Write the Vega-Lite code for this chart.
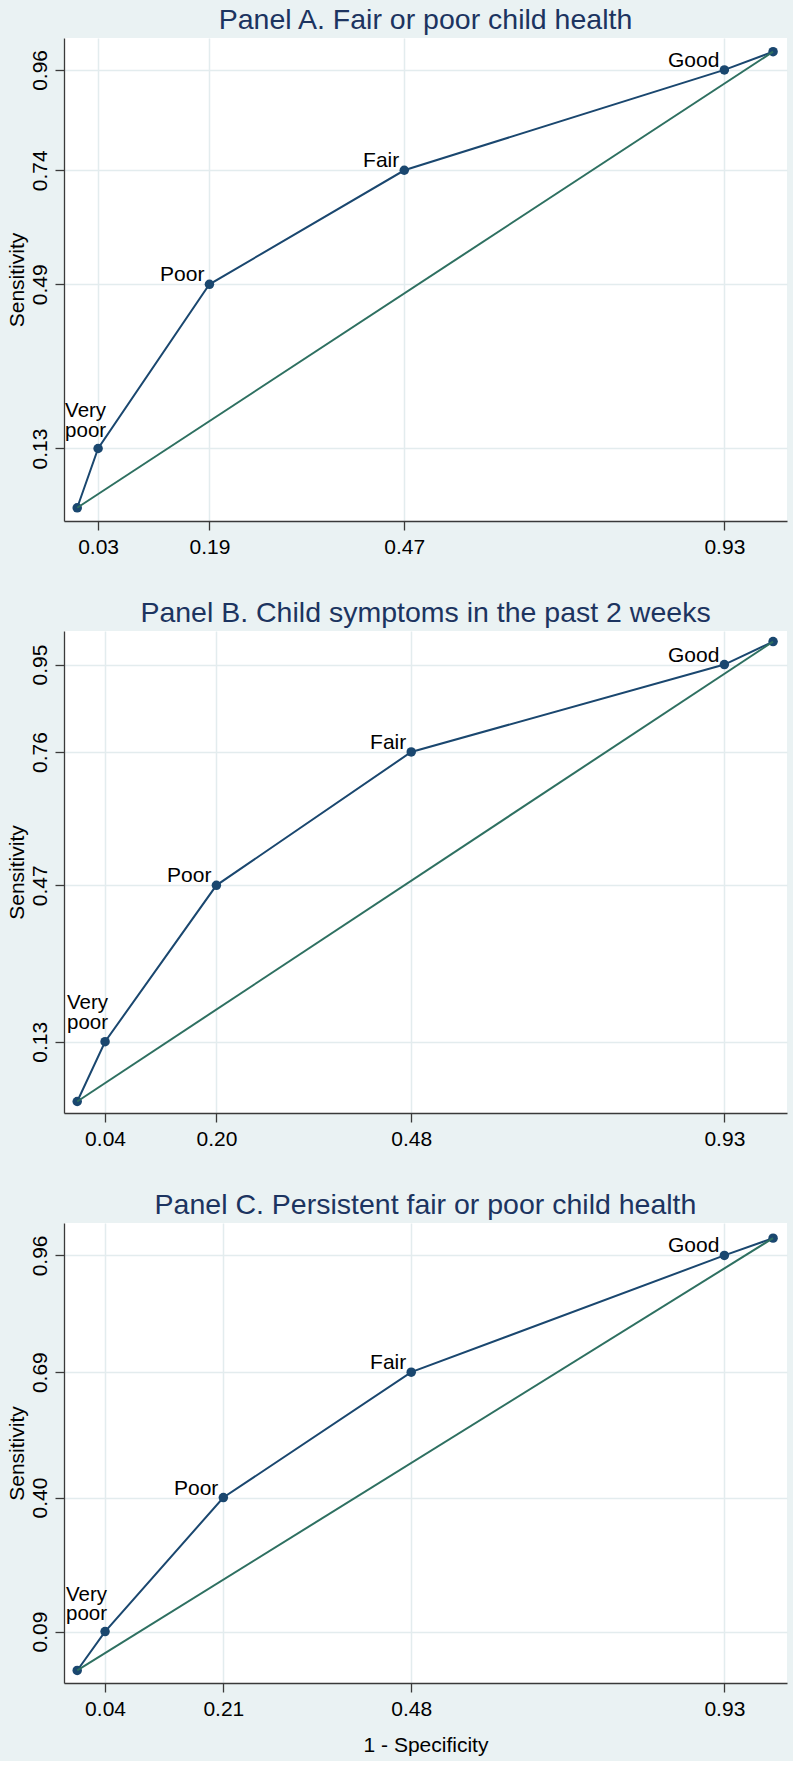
{
  "$schema": "https://vega.github.io/schema/vega-lite/v6.json",
  "background": "#eaf2f3",
  "padding": {"left": 5, "top": 5, "right": 7, "bottom": 6},
  "spacing": 41,
  "config": {
    "font": "Liberation Sans",
    "view": {"fill": "white", "stroke": null},
    "axis": {
      "domainColor": "#3a3a3a", "domainWidth": 1.3,
      "tickColor": "#3a3a3a", "tickWidth": 1.3, "tickSize": 9,
      "gridColor": "#e3ecee", "gridWidth": 1.5,
      "labelFont": "Liberation Sans", "labelFontSize": 21, "labelColor": "#000000",
      "titleFont": "Liberation Sans", "titleFontSize": 21, "titleFontWeight": "normal", "titleColor": "#000000"
    },
    "axisX": {"labelPadding": 6, "labelAngle": 0, "titlePadding": 15},
    "axisY": {"labelAngle": -90, "labelPadding": 5, "titlePadding": 2},
    "title": {"fontSize": 28.5, "fontWeight": "normal", "color": "#1c3460", "frame": "group", "anchor": "middle", "baseline": "alphabetic", "offset": 4, "font": "Liberation Sans"}
  },
  "datasets": {
    "roc": [
      {"panel": "A", "fpr": 0, "tpr": 0, "label": ""},
      {"panel": "A", "fpr": 0.03, "tpr": 0.13, "label": "Very poor"},
      {"panel": "A", "fpr": 0.19, "tpr": 0.49, "label": "Poor"},
      {"panel": "A", "fpr": 0.47, "tpr": 0.74, "label": "Fair"},
      {"panel": "A", "fpr": 0.93, "tpr": 0.96, "label": "Good"},
      {"panel": "A", "fpr": 1, "tpr": 1, "label": ""},
      {"panel": "B", "fpr": 0, "tpr": 0, "label": ""},
      {"panel": "B", "fpr": 0.04, "tpr": 0.13, "label": "Very poor"},
      {"panel": "B", "fpr": 0.20, "tpr": 0.47, "label": "Poor"},
      {"panel": "B", "fpr": 0.48, "tpr": 0.76, "label": "Fair"},
      {"panel": "B", "fpr": 0.93, "tpr": 0.95, "label": "Good"},
      {"panel": "B", "fpr": 1, "tpr": 1, "label": ""},
      {"panel": "C", "fpr": 0, "tpr": 0, "label": ""},
      {"panel": "C", "fpr": 0.04, "tpr": 0.09, "label": "Very poor"},
      {"panel": "C", "fpr": 0.21, "tpr": 0.40, "label": "Poor"},
      {"panel": "C", "fpr": 0.48, "tpr": 0.69, "label": "Fair"},
      {"panel": "C", "fpr": 0.93, "tpr": 0.96, "label": "Good"},
      {"panel": "C", "fpr": 1, "tpr": 1, "label": ""}
    ],
    "diag": [
      {"fpr": 0, "tpr": 0},
      {"fpr": 1, "tpr": 1}
    ]
  },
  "vconcat": [
    {
      "width": 723, "height": 483,
      "title": "Panel A. Fair or poor child health",
      "encoding": {
        "x": {"field": "fpr", "type": "quantitative", "scale": {"domain": [-0.019, 1.02], "nice": false, "zero": false}, "axis": {"values": [0.03, 0.19, 0.47, 0.93], "format": ".2f", "title": null}},
        "y": {"field": "tpr", "type": "quantitative", "scale": {"domain": [-0.029, 1.03], "nice": false, "zero": false}, "axis": {"values": [0.13, 0.49, 0.74, 0.96], "format": ".2f", "title": "Sensitivity"}}
      },
      "layer": [
        {"data": {"name": "roc"}, "transform": [{"filter": "datum.panel === 'A'"}],
         "mark": {"type": "line", "color": "#1a476f", "strokeWidth": 2, "point": {"filled": true, "size": 90, "color": "#1a476f", "opacity": 1}}},
        {"data": {"name": "diag"}, "mark": {"type": "line", "color": "#2e7061", "strokeWidth": 2}},
        {"data": {"name": "roc"}, "transform": [{"filter": "datum.panel === 'A' && datum.label !== '' && datum.label !== 'Very poor'"}],
         "mark": {"type": "text", "align": "right", "baseline": "alphabetic", "dx": -5, "dy": -3, "fontSize": 21, "color": "#000000"},
         "encoding": {"text": {"field": "label"}}},
        {"data": {"name": "roc"}, "transform": [{"filter": "datum.panel === 'A' && datum.label === 'Very poor'"}],
         "mark": {"type": "text", "align": "left", "baseline": "alphabetic", "lineBreak": " ", "lineHeight": 19.5, "dx": -33, "dy": -31, "fontSize": 20.5, "color": "#000000"},
         "encoding": {"text": {"field": "label"}}}
      ]
    },
    {
      "width": 723, "height": 482,
      "title": "Panel B. Child symptoms in the past 2 weeks",
      "encoding": {
        "x": {"field": "fpr", "type": "quantitative", "scale": {"domain": [-0.019, 1.02], "nice": false, "zero": false}, "axis": {"values": [0.04, 0.20, 0.48, 0.93], "format": ".2f", "title": null}},
        "y": {"field": "tpr", "type": "quantitative", "scale": {"domain": [-0.025, 1.023], "nice": false, "zero": false}, "axis": {"values": [0.13, 0.47, 0.76, 0.95], "format": ".2f", "title": "Sensitivity"}}
      },
      "layer": [
        {"data": {"name": "roc"}, "transform": [{"filter": "datum.panel === 'B'"}],
         "mark": {"type": "line", "color": "#1a476f", "strokeWidth": 2, "point": {"filled": true, "size": 90, "color": "#1a476f", "opacity": 1}}},
        {"data": {"name": "diag"}, "mark": {"type": "line", "color": "#2e7061", "strokeWidth": 2}},
        {"data": {"name": "roc"}, "transform": [{"filter": "datum.panel === 'B' && datum.label !== '' && datum.label !== 'Very poor'"}],
         "mark": {"type": "text", "align": "right", "baseline": "alphabetic", "dx": -5, "dy": -3, "fontSize": 21, "color": "#000000"},
         "encoding": {"text": {"field": "label"}}},
        {"data": {"name": "roc"}, "transform": [{"filter": "datum.panel === 'B' && datum.label === 'Very poor'"}],
         "mark": {"type": "text", "align": "left", "baseline": "alphabetic", "lineBreak": " ", "lineHeight": 20, "dx": -38, "dy": -33, "fontSize": 20.5, "color": "#000000"},
         "encoding": {"text": {"field": "label"}}}
      ]
    },
    {
      "width": 723, "height": 460,
      "title": "Panel C. Persistent fair or poor child health",
      "encoding": {
        "x": {"field": "fpr", "type": "quantitative", "scale": {"domain": [-0.019, 1.02], "nice": false, "zero": false}, "axis": {"values": [0.04, 0.21, 0.48, 0.93], "format": ".2f", "title": "1 - Specificity"}},
        "y": {"field": "tpr", "type": "quantitative", "scale": {"domain": [-0.029, 1.035], "nice": false, "zero": false}, "axis": {"values": [0.09, 0.40, 0.69, 0.96], "format": ".2f", "title": "Sensitivity"}}
      },
      "layer": [
        {"data": {"name": "roc"}, "transform": [{"filter": "datum.panel === 'C'"}],
         "mark": {"type": "line", "color": "#1a476f", "strokeWidth": 2, "point": {"filled": true, "size": 90, "color": "#1a476f", "opacity": 1}}},
        {"data": {"name": "diag"}, "mark": {"type": "line", "color": "#2e7061", "strokeWidth": 2}},
        {"data": {"name": "roc"}, "transform": [{"filter": "datum.panel === 'C' && datum.label !== '' && datum.label !== 'Very poor'"}],
         "mark": {"type": "text", "align": "right", "baseline": "alphabetic", "dx": -5, "dy": -3, "fontSize": 21, "color": "#000000"},
         "encoding": {"text": {"field": "label"}}},
        {"data": {"name": "roc"}, "transform": [{"filter": "datum.panel === 'C' && datum.label === 'Very poor'"}],
         "mark": {"type": "text", "align": "left", "baseline": "alphabetic", "lineBreak": " ", "lineHeight": 19.5, "dx": -39, "dy": -31, "fontSize": 20.5, "color": "#000000"},
         "encoding": {"text": {"field": "label"}}}
      ]
    }
  ]
}
